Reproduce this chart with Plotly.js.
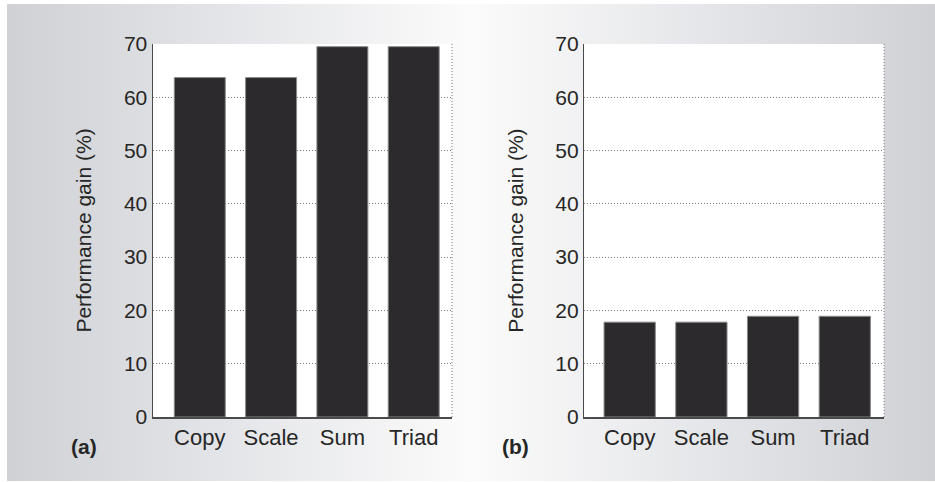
<!DOCTYPE html>
<html>
<head>
<meta charset="utf-8">
<script src="https://cdn.plot.ly/plotly-3.0.1.min.js"></script>
<style>
  html, body { margin: 0; padding: 0; background: #ffffff; }
  #wrap { position: relative; width: 935px; height: 482px; overflow: hidden; }
  #bg { position: absolute; left: 7px; top: 4px; width: 928px; height: 477px;
        background: linear-gradient(to right, #d0d1d5 0%, #e5e6e9 25%, #fbfbfb 50%, #e5e6e9 75%, #d0d1d5 100%); }
  #chart { position: absolute; left: 0; top: 0; width: 935px; height: 482px; }
</style>
</head>
<body>
<div id="wrap"><div id="bg"></div><div id="chart"></div></div>
<script>
// Data
const categories = ["Copy", "Scale", "Sum", "Triad"];
const gainA = [63.7, 63.7, 69.5, 69.5];
const gainB = [17.8, 17.8, 18.9, 18.9];
const yTicks = [0, 10, 20, 30, 40, 50, 60, 70];
const panelLabels = ["(a)", "(b)"];
const yTitle = "Performance gain (%)";

const xPos = categories.map((c, i) => i + 1);
const textColor = "#262626";
const fontFam = "'Liberation Sans', Arial, Helvetica, sans-serif";

function barTrace(vals, xa, ya) {
  return {
    type: "bar", x: xPos, y: vals, xaxis: xa, yaxis: ya,
    width: 0.715,
    marker: { color: "#2c2a2c", line: { color: "#8a8a8a", width: 1 } },
    hoverinfo: "x+y", showlegend: false
  };
}

function xAxis(domain, range, anchor) {
  return {
    domain: domain, range: range, anchor: anchor,
    tickmode: "array", tickvals: xPos, ticktext: categories,
    showgrid: false, zeroline: false,
    showline: true, linecolor: "#4a4a4a", linewidth: 1.5,
    ticks: "", ticklabelstandoff: 0,
    tickfont: { family: fontFam, size: 22, color: textColor },
    fixedrange: true
  };
}
function yAxis(domain, anchor) {
  return {
    domain: domain, range: [0, 70], anchor: anchor,
    tickmode: "array", tickvals: yTicks, ticktext: yTicks.map(String),
    showgrid: true, gridcolor: "#7a7a7a", gridwidth: 1, griddash: "1px,2px",
    zeroline: false,
    showline: true, linecolor: "#4a4a4a", linewidth: 1.5,
    ticks: "", ticklabelstandoff: 0,
    tickfont: { family: fontFam, size: 21, color: textColor },
    title: { text: yTitle, font: { family: fontFam, size: 21, color: textColor }, standoff: 26 },
    fixedrange: true
  };
}

const yDom = [1 - 417 / 482, 1 - 44 / 482];
const layout = {
  width: 935, height: 482,
  margin: { l: 0, r: 0, t: 0, b: 0 },
  paper_bgcolor: "rgba(0,0,0,0)",
  plot_bgcolor: "#ffffff",
  xaxis: xAxis([153 / 935, 452 / 935], [0.344, 4.537], "y"),
  yaxis: yAxis(yDom, "x"),
  xaxis2: xAxis([584.3 / 935, 884 / 935], [0.367, 4.547], "y2"),
  yaxis2: yAxis(yDom, "x2"),
  shapes: [
    { type: "line", xref: "x domain", yref: "y domain", x0: 1, x1: 1, y0: 0, y1: 1,
      line: { color: "#7a7a7a", width: 1, dash: "1px,2px" } },
    { type: "line", xref: "x2 domain", yref: "y2 domain", x0: 1, x1: 1, y0: 0, y1: 1,
      line: { color: "#7a7a7a", width: 1, dash: "1px,2px" } }
  ],
  annotations: [
    { text: "<b>" + panelLabels[0] + "</b>", xref: "paper", yref: "paper",
      x: 84 / 935, y: 1 - 446 / 482, xanchor: "center", yanchor: "middle",
      showarrow: false, font: { family: fontFam, size: 21, color: textColor } },
    { text: "<b>" + panelLabels[1] + "</b>", xref: "paper", yref: "paper",
      x: 515 / 935, y: 1 - 446 / 482, xanchor: "center", yanchor: "middle",
      showarrow: false, font: { family: fontFam, size: 21, color: textColor } }
  ]
};

Plotly.newPlot("chart", [barTrace(gainA, "x", "y"), barTrace(gainB, "x2", "y2")], layout,
  { displayModeBar: false, staticPlot: true });
</script>
</body>
</html>
